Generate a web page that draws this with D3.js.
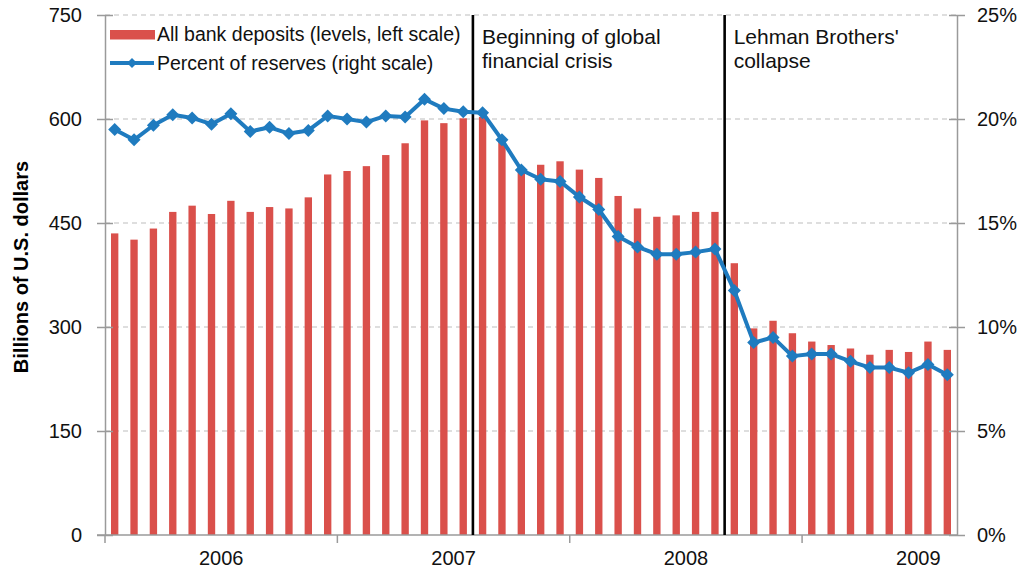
<!DOCTYPE html>
<html>
<head>
<meta charset="utf-8">
<script src="https://cdn.jsdelivr.net/npm/d3@7"></script>
<style>
  body { margin: 0; background: #fff; }
  text { font-family: "Liberation Sans", Arial, sans-serif; }
</style>
</head>
<body>
<div id="chart"></div>
<script>
// monthly observations, Jan 2006 - Aug 2009
const months = [
  "2006-01","2006-02","2006-03","2006-04","2006-05","2006-06","2006-07","2006-08","2006-09","2006-10","2006-11","2006-12",
  "2007-01","2007-02","2007-03","2007-04","2007-05","2007-06","2007-07","2007-08","2007-09","2007-10","2007-11","2007-12",
  "2008-01","2008-02","2008-03","2008-04","2008-05","2008-06","2008-07","2008-08","2008-09","2008-10","2008-11","2008-12",
  "2009-01","2009-02","2009-03","2009-04","2009-05","2009-06","2009-07","2009-08"
];

// all bank deposits, billions of US dollars (left scale)
const deposits = [
  435, 426, 442, 466, 475, 463, 482, 466, 473, 471, 487, 520,
  525, 532, 548, 565, 598, 594, 601, 603, 568, 529, 534, 539,
  527, 515, 489, 471, 459, 461, 466, 466, 392, 298, 309, 291,
  279, 274, 269, 260, 267, 264, 279, 267
];

// percent of reserves (right scale)
const reservePct = [
  19.5, 19.0, 19.7, 20.2, 20.05, 19.75, 20.25, 19.4, 19.6, 19.3, 19.45, 20.15,
  20.0, 19.85, 20.15, 20.1, 20.95, 20.5, 20.35, 20.3, 19.0, 17.55, 17.1, 17.0,
  16.25, 15.65, 14.35, 13.85, 13.5, 13.5, 13.6, 13.75, 11.75, 9.25, 9.5, 8.6,
  8.7, 8.7, 8.35, 8.05, 8.05, 7.8, 8.2, 7.7
];

const years = ["2006", "2007", "2008", "2009"];
const depositTicks = [0, 150, 300, 450, 600, 750];
const pctTicks = [0, 5, 10, 15, 20, 25];

const events = [
  { month: "2007-08", lines: ["Beginning of global", "financial crisis"] },
  { month: "2008-09", lines: ["Lehman Brothers'", "collapse"] }
];

const width = 1024;
const height = 574;
const margin = { top: 15, right: 67, bottom: 39, left: 105 };

const barColor = "#da504b";
const lineColor = "#1f7bbf";
const axisColor = "#9a9a9a";

const svg = d3.select("#chart").append("svg")
  .attr("width", width)
  .attr("height", height);

const x = d3.scaleBand()
  .domain(months)
  .range([margin.left, width - margin.right])
  .padding(0);

const yL = d3.scaleLinear()
  .domain([0, 750])
  .range([height - margin.bottom, margin.top]);

const yR = d3.scaleLinear()
  .domain([0, 25])
  .range([height - margin.bottom, margin.top]);

const x0 = margin.left;
const x1 = width - margin.right;
const yBase = height - margin.bottom;

// gridlines
svg.append("g")
  .selectAll("line")
  .data(depositTicks.filter(d => d > 0))
  .enter().append("line")
  .attr("x1", x0)
  .attr("x2", x1)
  .attr("y1", d => yL(d))
  .attr("y2", d => yL(d))
  .attr("stroke", "#bdbdbd")
  .attr("stroke-width", 1.2)
  .attr("stroke-dasharray", "5,4");

// bars
const barW = x.bandwidth() * 0.38;
svg.append("g")
  .selectAll("rect")
  .data(months)
  .enter().append("rect")
  .attr("x", (d, i) => x(d) + (x.bandwidth() - barW) / 2)
  .attr("y", (d, i) => yL(deposits[i]))
  .attr("width", barW)
  .attr("height", (d, i) => yBase - yL(deposits[i]))
  .attr("fill", barColor);

// left axis
const leftAxis = svg.append("g")
  .attr("transform", `translate(${x0},0)`)
  .call(d3.axisLeft(yL).tickValues(depositTicks).tickSizeInner(8).tickSizeOuter(0).tickPadding(15));
leftAxis.select(".domain").attr("stroke", axisColor).attr("stroke-width", 1.5);
leftAxis.selectAll(".tick line").attr("x1", 8).attr("x2", -8).attr("stroke", axisColor).attr("stroke-width", 1.5);
leftAxis.selectAll(".tick text")
  .attr("font-size", "20px")
  .attr("font-family", "'Liberation Sans', Arial, sans-serif")
  .attr("fill", "#111");

// right axis
const rightAxis = svg.append("g")
  .attr("transform", `translate(${x1},0)`)
  .call(d3.axisRight(yR).tickValues(pctTicks).tickFormat(d => d + "%").tickSizeInner(8).tickSizeOuter(0).tickPadding(12));
rightAxis.select(".domain").attr("stroke", axisColor).attr("stroke-width", 1.5);
rightAxis.selectAll(".tick line").attr("x1", -8).attr("x2", 8).attr("stroke", axisColor).attr("stroke-width", 1.5);
rightAxis.selectAll(".tick text")
  .attr("font-size", "20px")
  .attr("font-family", "'Liberation Sans', Arial, sans-serif")
  .attr("fill", "#111");

// bottom axis
svg.append("line")
  .attr("x1", x0 - 8)
  .attr("x2", x1)
  .attr("y1", yBase)
  .attr("y2", yBase)
  .attr("stroke", axisColor)
  .attr("stroke-width", 1.5);

svg.append("g")
  .selectAll("line")
  .data(years)
  .enter().append("line")
  .attr("x1", d => x(d + "-01"))
  .attr("x2", d => x(d + "-01"))
  .attr("y1", yBase)
  .attr("y2", yBase + 8)
  .attr("stroke", axisColor)
  .attr("stroke-width", 1.5);

svg.append("g")
  .selectAll("text")
  .data(years)
  .enter().append("text")
  .attr("x", d => x(d + "-07"))
  .attr("y", yBase + 30)
  .attr("text-anchor", "middle")
  .attr("font-size", "20px")
  .attr("fill", "#111")
  .text(d => d);

// event markers
events.forEach(ev => {
  const ex = x(ev.month);
  svg.append("line")
    .attr("x1", ex)
    .attr("x2", ex)
    .attr("y1", margin.top)
    .attr("y2", yBase)
    .attr("stroke", "#000")
    .attr("stroke-width", 2.6);

  svg.append("g")
    .selectAll("text")
    .data(ev.lines)
    .enter().append("text")
    .attr("x", ex + 9)
    .attr("y", (d, i) => 44 + i * 24)
    .attr("font-size", "21px")
    .attr("fill", "#111")
    .text(d => d);
});

// reserves line
const diamond = r => `M0,${-r}L${r},0L0,${r}L${-r},0Z`;

const line = d3.line()
  .x((d, i) => x(months[i]) + x.bandwidth() / 2)
  .y(d => yR(d));

svg.append("path")
  .datum(reservePct)
  .attr("d", line)
  .attr("fill", "none")
  .attr("stroke", lineColor)
  .attr("stroke-width", 4)
  .attr("stroke-linejoin", "round");

svg.append("g")
  .selectAll("path")
  .data(reservePct)
  .enter().append("path")
  .attr("transform", (d, i) => `translate(${x(months[i]) + x.bandwidth() / 2},${yR(d)})`)
  .attr("d", diamond(6.5))
  .attr("fill", lineColor);

// legend
const legend = svg.append("g");
legend.append("rect")
  .attr("x", 110)
  .attr("y", 30)
  .attr("width", 45)
  .attr("height", 9.5)
  .attr("fill", barColor);
legend.append("text")
  .attr("x", 157)
  .attr("y", 41)
  .attr("font-size", "19.5px")
  .attr("fill", "#111")
  .text("All bank deposits (levels, left scale)");

legend.append("line")
  .attr("x1", 110)
  .attr("x2", 154)
  .attr("y1", 63)
  .attr("y2", 63)
  .attr("stroke", lineColor)
  .attr("stroke-width", 4);
legend.append("path")
  .attr("transform", "translate(132,63)")
  .attr("d", diamond(5))
  .attr("fill", lineColor);
legend.append("text")
  .attr("x", 157)
  .attr("y", 69.5)
  .attr("font-size", "19.5px")
  .attr("fill", "#111")
  .text("Percent of reserves (right scale)");

// y axis title
svg.append("text")
  .attr("transform", `translate(28,${(margin.top + yBase) / 2 - 8}) rotate(-90)`)
  .attr("text-anchor", "middle")
  .attr("font-size", "20px")
  .attr("font-weight", "bold")
  .attr("fill", "#000")
  .text("Billions of U.S. dollars");
</script>
</body>
</html>
